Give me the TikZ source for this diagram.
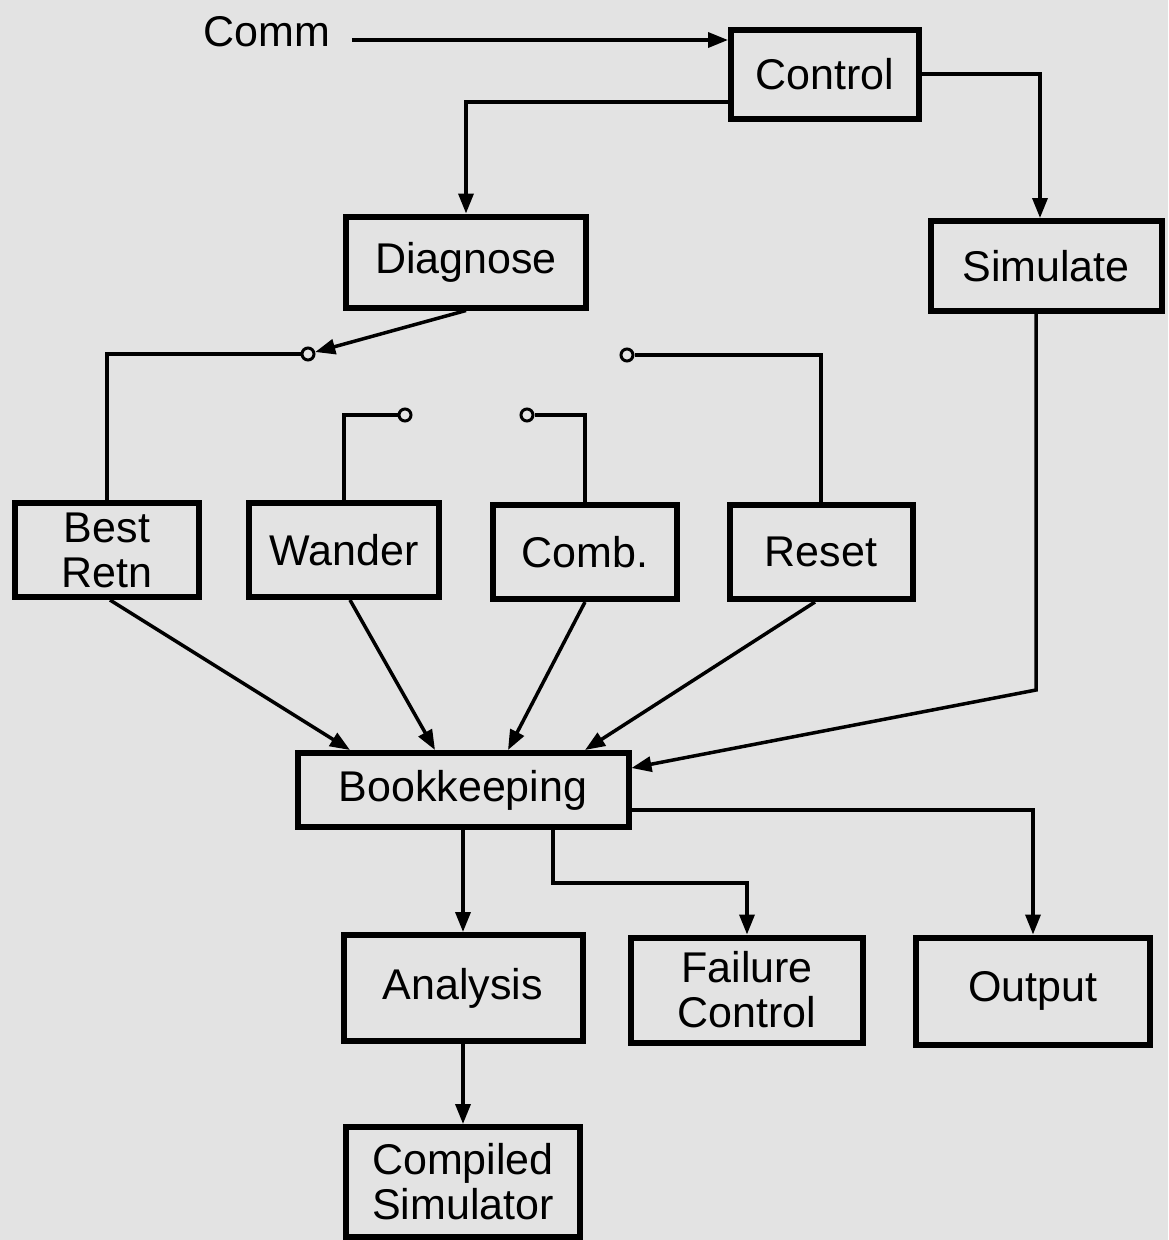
\documentclass[tikz,border=0pt]{standalone}
\usepackage{fontspec}
\setmainfont{Liberation Sans}
\usetikzlibrary{arrows.meta}

\tikzset{
    blk/.style={draw, line width=6pt, align=center, inner sep=0pt},
    sw/.style={draw, circle, line width=3pt, inner sep=0pt, minimum size=12pt},
    wire/.style={line width=3.5pt},
    arr/.style={wire, -{Triangle[length=20pt, width=15pt]}}
}

\begin{document}
\begin{tikzpicture}[x=1pt, y=-1pt, font=\fontsize{43}{45}\selectfont]
    \useasboundingbox[fill=black!11] (0,0) rectangle (1168,1240);

    \node (comm) at (267,32) {Comm};
    \node[blk, minimum width=188pt, minimum height=89pt] (ctrl) at (825,74) {Control};
    \node[blk, minimum width=240pt, minimum height=91pt] (diag) at (466,262) {Diagnose};
    \node[blk, minimum width=231pt, minimum height=90pt] (sim) at (1046,266) {Simulate};

    \node[sw] (s1) at (308,354) {};
    \node[sw] (s2) at (405,415) {};
    \node[sw] (s3) at (527,415) {};
    \node[sw] (s4) at (627,355) {};

    \node[blk, minimum width=184pt, minimum height=94pt] (best) at (107,550) {Best\\Retn};
    \node[blk, minimum width=190pt, minimum height=94pt] (wand) at (344,550) {Wander};
    \node[blk, minimum width=184pt, minimum height=94pt] (comb) at (585,552) {Comb.};
    \node[blk, minimum width=183pt, minimum height=94pt] (reset) at (821,552) {Reset};

    \node[blk, minimum width=331pt, minimum height=74pt] (book) at (463,790) {Bookkeeping};

    \node[blk, minimum width=239pt, minimum height=106pt] (anal) at (463,988) {Analysis};
    \node[blk, minimum width=232pt, minimum height=105pt] (fail) at (747,990) {Failure\\Control};
    \node[blk, minimum width=234pt, minimum height=107pt] (out) at (1033,991) {Output};
    \node[blk, minimum width=234pt, minimum height=110pt] (comp) at (463,1182) {Compiled\\Simulator};

    % control section
    \draw[arr] ([xshift=18pt, yshift=-8pt]comm.east) -- ([yshift=34pt]ctrl.west);
    \draw[arr] ([yshift=-28pt]ctrl.west) -| (diag.north);
    \draw[arr] (ctrl.east) -| ([xshift=-6pt]sim.north);
    \draw[arr] (diag.south) -- (s1);

    % switch contacts
    \draw[wire] (s1.west) -| (best.north);
    \draw[wire] (s2.west) -| (wand.north);
    \draw[wire] (s3.east) -| (comb.north);
    \draw[wire] (s4.east) -| (reset.north);

    % into bookkeeping
    \draw[arr] ([xshift=3pt]best.south) -- ([xshift=-113pt]book.north);
    \draw[arr] ([xshift=6pt]wand.south) -- ([xshift=-28pt]book.north);
    \draw[arr] (comb.south) -- ([xshift=45pt]book.north);
    \draw[arr] ([xshift=-6pt]reset.south) -- ([xshift=122pt]book.north);
    \draw[arr] ([xshift=-10pt]sim.south) -- ++(0,376) -- ([yshift=22pt]book.east);

    % out of bookkeeping
    \draw[arr] (book.south) -- (anal.north);
    \draw[arr] ([xshift=90pt]book.south) -- ++(0,53) -| (fail.north);
    \draw[arr] ([yshift=-20pt]book.east) -| (out.north);
    \draw[arr] (anal.south) -- (comp.north);

\end{tikzpicture}
\end{document}
